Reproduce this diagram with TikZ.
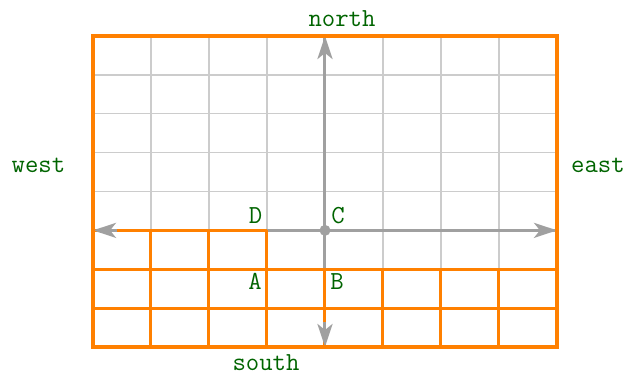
\documentclass[tikz,border=0pt]{standalone}
\usetikzlibrary{arrows.meta}
\definecolor{frameorange}{RGB}{255,128,0}
\definecolor{helpgray}{RGB}{204,204,204}
\definecolor{axisgray}{RGB}{160,160,160}
\definecolor{labelgreen}{RGB}{0,100,0}
\begin{document}
\begin{tikzpicture}[x=0.5pt,y=-0.5pt,
  helpline/.style={helpgray,line width=0.7pt},
  axisline/.style={axisgray,line width=1.5pt},
  tipstyle/.style={axisgray,line width=1.5pt,-{Stealth[length=11.5pt,width=7.5pt,inset=3pt]}},
  orangeline/.style={frameorange,line width=1.5pt},
  framestyle/.style={frameorange,line width=1.8pt},
  lbl/.style={text=labelgreen,font=\fontsize{13}{15}\selectfont\ttfamily,inner sep=0pt}]
\useasboundingbox (0,0) rectangle (629,374);
% light help grid
\foreach \i in {0,...,8} {
  \draw[helpline] ({93+58*\i},36) -- ({93+58*\i},347);
  \draw[helpline] (93,{36+38.875*\i}) -- (557,{36+38.875*\i});
}
% axis points
\coordinate (C) at (325,230.375);
\coordinate (W) at (93,230.375);
\coordinate (E) at (557,230.375);
\coordinate (N) at (325,36);
\coordinate (S) at (325,347);
% gray axis lines
\draw[axisline] (C) -- (W);
\draw[axisline] (C) -- (E);
\draw[axisline] (C) -- (N);
\draw[axisline] (C) -- (S);
% orange grid, bottom two rows
\foreach \i in {1,...,7} {
  \draw[orangeline] ({93+58*\i},269.25) -- ({93+58*\i},347);
}
\draw[orangeline] (93,269.25) -- (557,269.25);
\draw[orangeline] (93,308.125) -- (557,308.125);
% orange block, lower left
\foreach \i in {1,2,3} {
  \draw[orangeline] ({93+58*\i},230.375) -- ({93+58*\i},269.25);
}
\draw[orangeline] (93,230.375) -- (267,230.375);
% arrow tips on top
\draw[tipstyle,shorten <=104pt] (C) -- (W);
\draw[tipstyle,shorten <=104pt] (C) -- (E);
\draw[tipstyle,shorten <=85pt] (C) -- (N);
\draw[tipstyle,shorten <=46pt] (C) -- (S);
% frame
\draw[framestyle] (93,36) rectangle (557,347);
% centre dot
\fill[axisgray] (C) circle (5.5);
% labels
\node[lbl] (north) at (342,18.5) {north};
\node[lbl] (south) at (266,362.5) {south};
\node[lbl] (west) at (38.5,165) {west};
\node[lbl] (east) at (598,165) {east};
\node[lbl] (D) at (255.5,216) {D};
\node[lbl] (Cl) at (338,216) {C};
\node[lbl] (A) at (255,281.5) {A};
\node[lbl] (B) at (337,281.5) {B};
\end{tikzpicture}
\end{document}
